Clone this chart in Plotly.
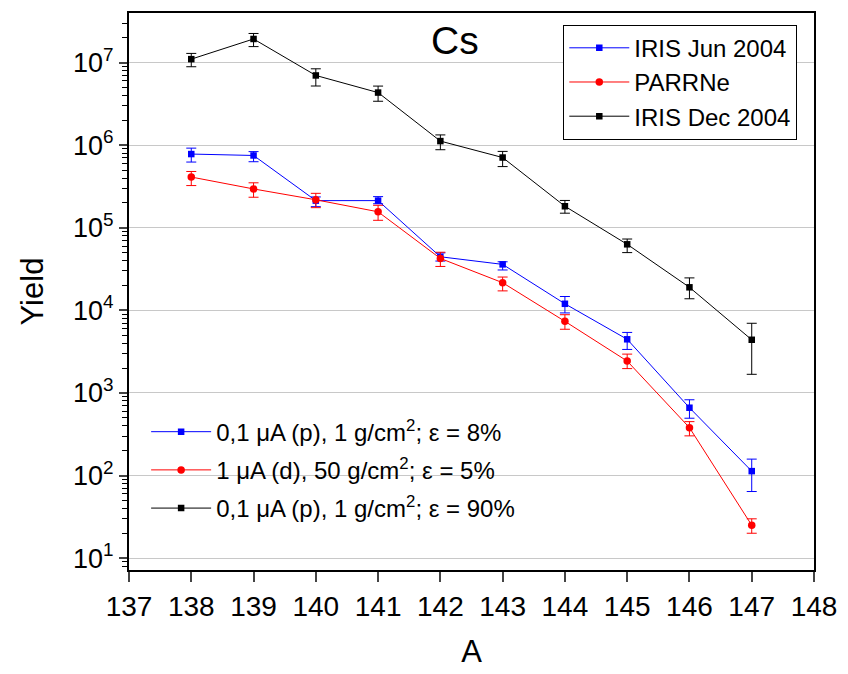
import plotly.graph_objects as go

A = [138, 139, 140, 141, 142, 143, 144, 145, 146, 147]

iris_jun = [7.8e5, 7.5e5, 2.13e5, 2.13e5, 4.45e4, 3.6e4, 1.2e4, 4.46e3, 662, 113]
iris_jun_hi = [9.2e5, 8.35e5, 2.36e5, 2.38e5, 4.96e4, 3.87e4, 1.47e4, 5.4e3, 826, 158]
iris_jun_lo = [6.24e5, 6.3e5, 1.8e5, 1.95e5, 3.95e4, 3.08e4, 9.3e3, 3.36e3, 494, 64]

parrne = [4.11e5, 2.95e5, 2.18e5, 1.56e5, 4.25e4, 2.16e4, 7.36e3, 2.43e3, 380, 25]
parrne_hi = [4.8e5, 3.5e5, 2.61e5, 1.87e5, 5.05e4, 2.53e4, 8.85e3, 2.95e3, 449, 29.9]
parrne_lo = [3.24e5, 2.34e5, 1.75e5, 1.23e5, 3.4e4, 1.72e4, 5.9e3, 1.97e3, 302, 20]

iris_dec = [1.1e7, 1.93e7, 6.98e6, 4.33e6, 1.12e6, 7.08e5, 1.82e5, 6.3e4, 1.9e4, 4.4e3]
iris_dec_hi = [1.29e7, 2.25e7, 8.4e6, 5.19e6, 1.33e6, 8.4e5, 2.14e5, 7.3e4, 2.47e4, 6.97e3]
iris_dec_lo = [8.9e6, 1.56e7, 5.2e6, 3.4e6, 8.8e5, 5.5e5, 1.5e5, 5.0e4, 1.38e4, 1.68e3]

names = ["IRIS Jun 2004", "PARRNe", "IRIS Dec 2004"]
conditions = ["0,1 μA (p), 1 g/cm<sup>2</sup>; ε = 8%",
              "1 μA (d), 50 g/cm<sup>2</sup>; ε = 5%",
              "0,1 μA (p), 1 g/cm<sup>2</sup>; ε = 90%"]

y_tick_vals = [1e1, 1e2, 1e3, 1e4, 1e5, 1e6, 1e7]
y_tick_text = ["10<sup>1</sup>", "10<sup>2</sup>", "10<sup>3</sup>", "10<sup>4</sup>",
               "10<sup>5</sup>", "10<sup>6</sup>", "10<sup>7</sup>"]
x_tick_vals = [137, 138, 139, 140, 141, 142, 143, 144, 145, 146, 147, 148]

minor_vals = [m * 10 ** e for e in range(0, 8) for m in range(2, 10)]

FONT = "Arial, Liberation Sans, sans-serif"
series = [
    (iris_jun, iris_jun_hi, iris_jun_lo, "#0000ff", "square", 6.5),
    (parrne, parrne_hi, parrne_lo, "#ff0000", "circle", 7.5),
    (iris_dec, iris_dec_hi, iris_dec_lo, "#000000", "square", 6.5),
]

fig = go.Figure()
for i, (y, hi, lo, col, sym, ms) in enumerate(series):
    fig.add_trace(go.Scatter(
        x=A, y=y, mode="lines+markers", name=names[i], legend="legend",
        line=dict(color=col, width=1),
        marker=dict(color=col, symbol=sym, size=ms),
        error_y=dict(type="data", symmetric=False,
                     array=[h - v for h, v in zip(hi, y)],
                     arrayminus=[v - l for l, v in zip(lo, y)],
                     color=col, thickness=1, width=5),
    ))
for i, (y, hi, lo, col, sym, ms) in enumerate(series):
    fig.add_trace(go.Scatter(
        x=[None], y=[None], mode="lines+markers", name=conditions[i],
        legend="legend2", legendgroup="h%d" % i,
        line=dict(color=col, width=1),
        marker=dict(color=col, symbol=sym, size=ms),
    ))

fig.add_annotation(text="Cs", x=0.476, y=0.950, xref="paper", yref="paper",
                   xanchor="center", yanchor="middle", showarrow=False,
                   font=dict(size=39, color="black", family=FONT))

fig.update_layout(
    width=848, height=674,
    margin=dict(l=129, r=27, t=11, b=102),
    paper_bgcolor="white", plot_bgcolor="white",
    font=dict(family=FONT, color="black", size=24),
    legend=dict(x=0.634, y=0.979, xanchor="left", yanchor="top",
                bordercolor="black", borderwidth=1, bgcolor="white",
                font=dict(size=24), itemwidth=60),
    legend2=dict(x=0.025, y=0.288, xanchor="left", yanchor="top",
                 borderwidth=0, bgcolor="rgba(0,0,0,0)",
                 font=dict(size=24), tracegroupgap=4, itemwidth=60),
    xaxis=dict(range=[137, 148], tickmode="array", tickvals=x_tick_vals,
               showgrid=False,
               ticks="outside", ticklen=10, tickwidth=1.5,
               showline=True, linecolor="black", linewidth=2, mirror=True,
               title=dict(text="A", font=dict(size=31), standoff=20),
               tickfont=dict(size=28), zeroline=False),
    yaxis=dict(type="log", range=[0.856, 7.6], tickmode="array",
               tickvals=y_tick_vals, ticktext=y_tick_text,
               showgrid=True, gridcolor="#c8c8c8", gridwidth=1,
               ticks="outside", ticklen=8, tickwidth=1.5,
               minor=dict(tickmode="array", tickvals=minor_vals,
                          ticks="outside", ticklen=5, tickwidth=1,
                          tickcolor="black", showgrid=False),
               showline=True, linecolor="black", linewidth=2, mirror=True,
               title=dict(text="Yield", font=dict(size=31), standoff=20),
               tickfont=dict(size=27), zeroline=False),
)

fig.write_html("out.html",
               config={"displayModeBar": False},
               post_script="document.body.style.margin='0';"
                           "document.body.style.overflow='hidden';")
